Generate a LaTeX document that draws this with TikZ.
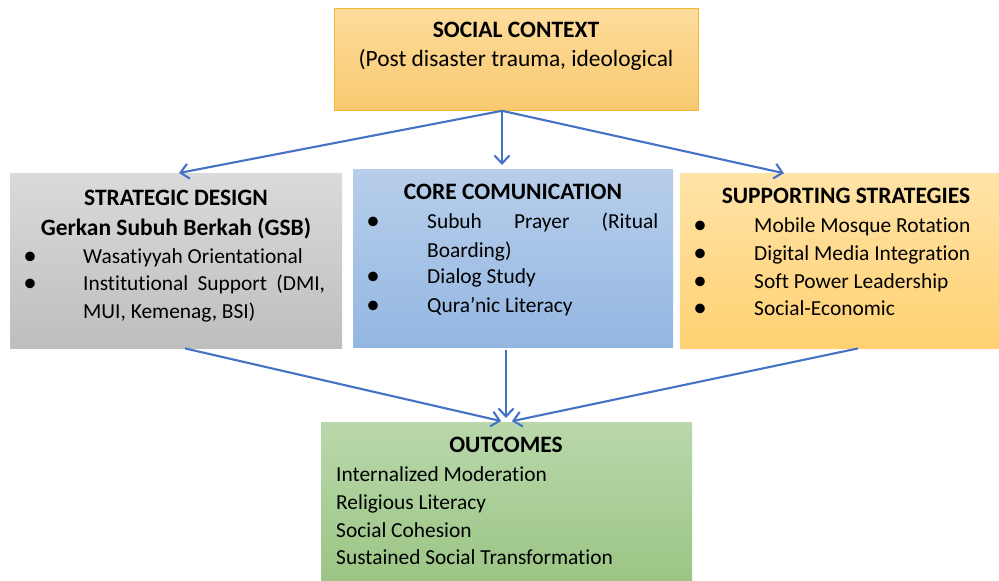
\documentclass[tikz,border=0pt]{standalone}
\usepackage{fontspec}
\setmainfont{Carlito}[Ligatures=NoCommon]
\usetikzlibrary{arrows.meta}
\definecolor{arr}{RGB}{68,114,196}
\definecolor{scTop}{RGB}{253,220,155}
\definecolor{scBot}{RGB}{249,201,112}
\definecolor{scLine}{RGB}{242,186,50}
\definecolor{sdTop}{RGB}{218,218,218}
\definecolor{sdBot}{RGB}{190,190,190}
\definecolor{ccTop}{RGB}{183,206,234}
\definecolor{ccBot}{RGB}{148,183,226}
\definecolor{spTop}{RGB}{255,227,167}
\definecolor{spBot}{RGB}{255,209,114}
\definecolor{ocTop}{RGB}{185,216,171}
\definecolor{ocBot}{RGB}{155,197,133}
\begin{document}
\begin{tikzpicture}[x=1pt,y=-1pt,
  box/.style={rectangle, inner sep=0pt, anchor=north west},
  txt/.style={anchor=base west, inner sep=0pt, font=\fontsize{21.4}{26}\selectfont},
  ctr/.style={anchor=base, inner sep=0pt, font=\fontsize{23.4}{28}\selectfont},
  ttl/.style={anchor=base, inner sep=0pt, font=\fontsize{23.5}{28}\selectfont\bfseries},
  bul/.style={anchor=base, inner sep=0pt, font=\fontsize{27}{28}\selectfont},
  conn/.style={draw=arr, line width=2.1pt, -{Straight Barb[length=8pt,width=15pt,line width=2.1pt]}}
]
\useasboundingbox (0,0) rectangle (999,581);

% boxes
\node[box, top color=scTop, bottom color=scBot, draw=scLine, line width=0.8pt,
      minimum width=364pt, minimum height=102pt] (sc) at (334,8) {};
\node[box, top color=sdTop, bottom color=sdBot,
      minimum width=332pt, minimum height=175pt] (sd) at (10,173) {};
\node[box, top color=ccTop, bottom color=ccBot,
      minimum width=320pt, minimum height=178pt] (cc) at (353,169) {};
\node[box, top color=spTop, bottom color=spBot,
      minimum width=319pt, minimum height=175pt] (sp) at (680,173) {};
\node[box, top color=ocTop, bottom color=ocBot,
      minimum width=371pt, minimum height=159pt] (oc) at (321,422) {};

% social context
\node[ttl] (scT) at (516,37) {SOCIAL CONTEXT};
\node[ctr] (sc1) at (516,66) {(Post disaster trauma, ideological};

% strategic design
\node[ttl] (sdT) at (176,205) {STRATEGIC DESIGN};
\node[ttl] (sdS) at (176,235) {Gerkan Subuh Berkah (GSB)};
\node[bul] (sdb1) at (30,264) {•};
\node[txt] (sd1) at (83,263) {Wasatiyyah Orientational};
\node[bul] (sdb2) at (30,291) {•};
\node[txt] (sd2) at (83,290) {\makebox[242pt][s]{Institutional Support (DMI,}};
\node[txt] (sd3) at (83,318) {MUI, Kemenag, BSI)};

% core communication
\node[ttl] (ccT) at (513,199) {CORE COMUNICATION};
\node[bul] (ccb1) at (373,229) {•};
\node[txt] (cc1) at (427,228) {\makebox[231pt][s]{Subuh Prayer (Ritual}};
\node[txt] (cc2) at (427,257) {Boarding)};
\node[bul] (ccb2) at (373,284) {•};
\node[txt] (cc3) at (427,283) {Dialog Study};
\node[bul] (ccb3) at (373,313) {•};
\node[txt] (cc4) at (427,312) {Qura’nic Literacy};

% supporting strategies
\node[ttl] (spT) at (846,203) {SUPPORTING STRATEGIES};
\node[bul] (spb1) at (700,233) {•};
\node[txt] (sp1) at (754,232) {Mobile Mosque Rotation};
\node[bul] (spb2) at (700,261) {•};
\node[txt] (sp2) at (754,260) {Digital Media Integration};
\node[bul] (spb3) at (700,289) {•};
\node[txt] (sp3) at (754,288) {Soft Power Leadership};
\node[bul] (spb4) at (700,316) {•};
\node[txt] (sp4) at (754,315) {Social-Economic};

% outcomes
\node[ttl] (ocT) at (506,452) {OUTCOMES};
\node[txt] (oc1) at (336,481) {Internalized Moderation};
\node[txt] (oc2) at (336,509) {Religious Literacy};
\node[txt] (oc3) at (336,537) {Social Cohesion};
\node[txt] (oc4) at (336,564) {Sustained Social Transformation};

% connectors
\draw[conn] (sc.south -| 502,0) -- (sd.north -| 179,0);
\draw[conn, shorten >=4pt] (sc.south -| 502,0) -- (cc.north -| 502,0);
\draw[conn, shorten >=-1pt] (sc.south -| 502,0) -- (sp.north -| 783,0);
\draw[conn, shorten >=4pt] (sd.south -| 185,0) -- (oc.north -| 505,0);
\draw[conn, shorten <=3pt, shorten >=4pt] (cc.south -| 506,0) -- (oc.north -| 506,0);
\draw[conn, shorten >=4pt] (sp.south -| 858,0) -- (oc.north -| 508,0);
\end{tikzpicture}
\end{document}
